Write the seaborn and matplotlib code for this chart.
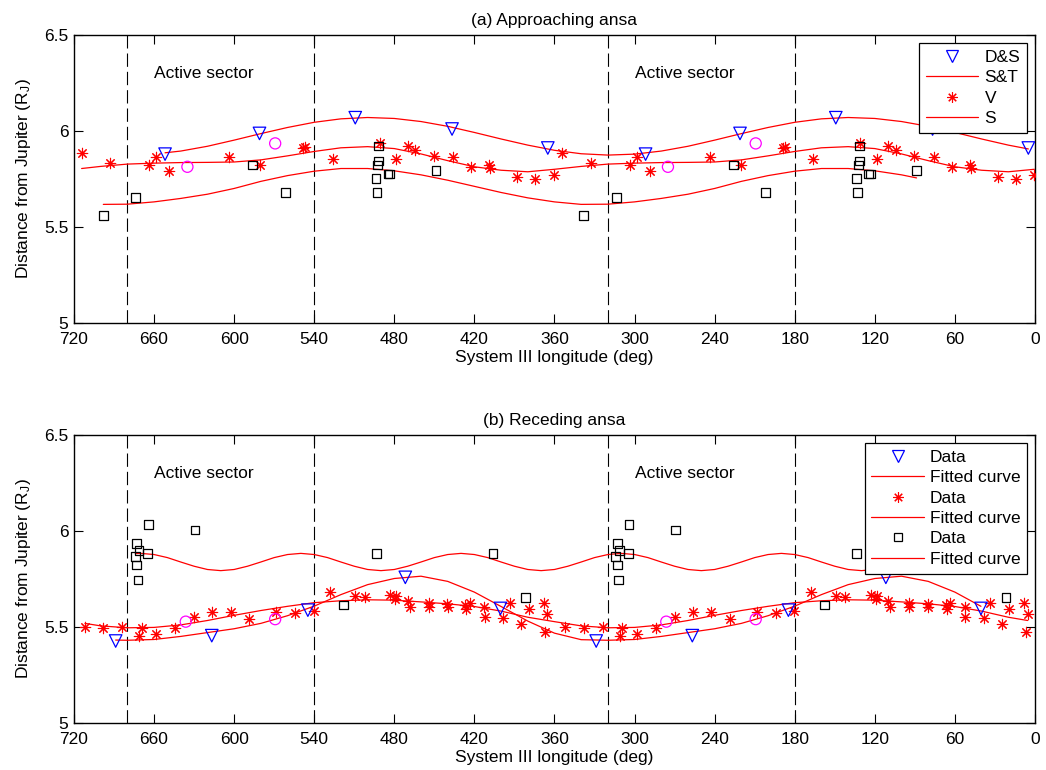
import numpy as np
import pandas as pd
import matplotlib
matplotlib.use("Agg")
import matplotlib.pyplot as plt
from matplotlib.lines import Line2D
import seaborn as sns

# -----------------------------
# data (one 360 deg cycle, drawn again at lon - 360)
# lon = System III longitude (deg), r = distance (R_J)
# -----------------------------

# (a) approaching ansa
a_ds_lon = [651.75, 581.0, 509.25, 436.75, 365.0]
a_ds_r = [5.879, 5.987, 6.069, 6.010, 5.911]

a_circ_lon = [635.0, 569.25]
a_circ_r = [5.813, 5.935]

a_sq_lon = [698.0, 673.75, 586.0, 561.75, 491.75, 491.75, 492.5, 493.75, 493.0, 484.75, 483.5, 448.75]
a_sq_r = [5.561, 5.652, 5.822, 5.680, 5.921, 5.843, 5.822, 5.753, 5.680, 5.775, 5.775, 5.793]

a_v_lon = [714.25, 693.0, 663.5, 658.5, 648.5, 603.75, 580.5, 548.75, 547.25, 526.0, 491.0,
           478.5, 470.0, 464.25, 450.5, 436.0, 422.25, 408.75, 408.0, 388.0, 374.25, 360.5]
a_v_r = [5.883, 5.831, 5.822, 5.862, 5.791, 5.862, 5.822, 5.912, 5.914, 5.852, 5.935,
         5.852, 5.921, 5.900, 5.869, 5.862, 5.813, 5.822, 5.805, 5.761, 5.749, 5.770]

# (b) receding ansa
b_ds_lon = [688.75, 616.75, 544.75, 471.75, 400.5]
b_ds_r = [5.426, 5.454, 5.587, 5.758, 5.596]

b_circ_lon = [636.25, 569.25]
b_circ_r = [5.527, 5.540]

b_sq_lon = [673.0, 671.25, 674.0, 673.0, 672.0, 664.75, 664.25, 629.25, 518.0, 493.5, 406.0, 381.75]
b_sq_r = [5.935, 5.897, 5.866, 5.822, 5.744, 5.883, 6.034, 6.005, 5.614, 5.883, 5.883, 5.653]

b_v_lon = [711.75, 698.0, 683.75, 669.25, 671.25, 658.5, 644.25, 630.0, 616.25, 602.5, 588.5,
           568.5, 554.25, 540.5, 528.0, 509.25, 502.25, 483.0, 478.5, 479.25, 470.0, 468.5,
           454.25, 454.25, 440.5, 440.0, 426.75, 426.0, 423.5, 412.5, 412.25, 398.5, 393.5,
           384.75, 379.25, 368.0, 365.5, 366.75]
b_v_r = [5.501, 5.492, 5.501, 5.492, 5.452, 5.462, 5.492, 5.553, 5.575, 5.575, 5.540,
         5.579, 5.574, 5.582, 5.680, 5.662, 5.653, 5.666, 5.662, 5.645, 5.634, 5.601,
         5.622, 5.601, 5.617, 5.601, 5.614, 5.593, 5.622, 5.605, 5.553, 5.544, 5.626,
         5.514, 5.593, 5.626, 5.565, 5.474]

# fitted curves, read every 20 deg (10 deg for the 3-hump one) from 360 up
grid20 = list(range(360, 720, 20))
grid10 = list(range(360, 720, 10))

a_ds_fit = [5.899, 5.926, 5.958, 5.992, 6.024, 6.049, 6.065, 6.070, 6.063,
            6.045, 6.018, 5.986, 5.952, 5.920, 5.895, 5.879, 5.874, 5.881]
a_v_fit = [5.800, 5.787, 5.795, 5.813, 5.845, 5.880, 5.908, 5.918, 5.912,
           5.893, 5.870, 5.849, 5.838, 5.836, 5.835, 5.832, 5.827, 5.815]
a_s_fit = [5.630, 5.651, 5.679, 5.711, 5.743, 5.771, 5.792, 5.804, 5.804,
           5.790, 5.767, 5.737, 5.700, 5.670, 5.648, 5.630, 5.618, 5.617]

b_ds_fit = [5.467, 5.530, 5.606, 5.681, 5.737, 5.764, 5.752, 5.720, 5.668,
            5.608, 5.558, 5.518, 5.490, 5.470, 5.450, 5.434, 5.430, 5.433]
b_v_fit = [5.527, 5.550, 5.582, 5.606, 5.620, 5.630, 5.639, 5.641, 5.636,
           5.626, 5.607, 5.585, 5.560, 5.533, 5.510, 5.497, 5.495, 5.505]
b_s_fit = [5.799, 5.793, 5.799, 5.816, 5.838, 5.861, 5.877, 5.883, 5.877, 5.861, 5.838, 5.816,
           5.799, 5.793, 5.799, 5.816, 5.838, 5.861, 5.877, 5.883, 5.877, 5.861, 5.838, 5.816,
           5.799, 5.793, 5.799, 5.816, 5.838, 5.861, 5.877, 5.883, 5.877, 5.861, 5.838, 5.816]

# where each fitted curve starts and stops: (lon, r)
a_ds_ends = [(651.75, 5.886), (5.0, 5.906)]
a_v_ends = [(714.25, 5.804), (0.5, 5.800)]
a_s_ends = [(698.0, 5.617), (88.75, 5.755)]
b_ds_ends = [(688.75, 5.431), (40.5, 5.607)]
b_v_ends = [(711.75, 5.518), (5.5, 5.533)]
b_s_ends = [(674.0, 5.882), (21.75, 5.801)]

boundaries = [680, 540, 320, 180]
sector_x = [660, 300]


def both_cycles(lon, r):
    lon = np.asarray(lon, float)
    r = np.asarray(r, float)
    return pd.DataFrame({"lon": np.r_[lon, lon - 360], "r": np.r_[r, r]})


def fit_frame(grid, vals, ends):
    grid = np.asarray(grid, float)
    vals = np.asarray(vals, float)
    lon = np.r_[grid, grid - 360, 720.0]
    r = np.r_[vals, vals, vals[0]]
    (l0, r0), (l1, r1) = ends
    keep = (lon < l0) & (lon > l1)
    df = pd.DataFrame({"lon": np.r_[l0, lon[keep], l1], "r": np.r_[r0, r[keep], r1]})
    return df.sort_values("lon")


# -----------------------------
# style
# -----------------------------
sns.set_style("ticks")
plt.rcParams["font.family"] = ["Liberation Sans", "DejaVu Sans"]
plt.rcParams["mathtext.fontset"] = "custom"
plt.rcParams["mathtext.rm"] = "Liberation Sans"
plt.rcParams["mathtext.it"] = "Liberation Sans:italic"
plt.rcParams["text.color"] = "black"
plt.rcParams["axes.labelcolor"] = "black"
plt.rcParams["xtick.color"] = "black"
plt.rcParams["ytick.color"] = "black"

FS = 12.5
LW = 0.9

fig = plt.figure(figsize=(10.46, 7.70), dpi=100)
ax_a = fig.add_axes([0.0707, 0.5809, 0.9188, 0.3736])
ax_b = fig.add_axes([0.0707, 0.0614, 0.9188, 0.3736])

panels = [
    (ax_a, "(a) Approaching ansa",
     (a_ds_lon, a_ds_r), (a_circ_lon, a_circ_r), (a_sq_lon, a_sq_r), (a_v_lon, a_v_r),
     [(a_ds_fit, a_ds_ends, grid20), (a_v_fit, a_v_ends, grid20), (a_s_fit, a_s_ends, grid20)]),
    (ax_b, "(b) Receding ansa",
     (b_ds_lon, b_ds_r), (b_circ_lon, b_circ_r), (b_sq_lon, b_sq_r), (b_v_lon, b_v_r),
     [(b_ds_fit, b_ds_ends, grid20), (b_v_fit, b_v_ends, grid20), (b_s_fit, b_s_ends, grid10)]),
]

star = (8, 2, 0)

for ax, title, ds, circ, sq, v, fits in panels:
    for x in boundaries:
        ax.axvline(x, color="black", lw=0.8, ls=(0, (12, 4.5)), zorder=1)

    for vals, ends, grid in fits:
        sns.lineplot(data=fit_frame(grid, vals, ends), x="lon", y="r", color="red",
                     lw=LW, estimator=None, ax=ax, zorder=2)

    sns.scatterplot(data=both_cycles(*v), x="lon", y="r", marker=star, s=56,
                    color="red", linewidth=0.8, ax=ax, zorder=3)
    sns.scatterplot(data=both_cycles(*ds), x="lon", y="r", marker="v", s=81,
                    facecolor="none", edgecolor="blue", linewidth=LW, ax=ax, zorder=3)
    sns.scatterplot(data=both_cycles(*sq), x="lon", y="r", marker="s", s=40,
                    facecolor="none", edgecolor="black", linewidth=LW, ax=ax, zorder=3)
    sns.scatterplot(data=both_cycles(*circ), x="lon", y="r", marker="o", s=64,
                    facecolor="none", edgecolor="magenta", linewidth=LW, ax=ax, zorder=3)

    for x in sector_x:
        ax.text(x, 6.3, "Active sector", fontsize=FS, ha="left", va="center")

    ax.set_xlim(720, 0)
    ax.set_ylim(5, 6.5)
    ax.set_xticks(np.arange(720, -1, -60))
    ax.set_yticks([5, 5.5, 6, 6.5])
    ax.set_yticklabels(["5", "5.5", "6", "6.5"])
    ax.tick_params(axis="both", which="both", direction="in", length=6.5, width=0.8,
                   top=True, right=True, labelsize=FS)
    ax.tick_params(axis="x", pad=7)
    ax.tick_params(axis="y", pad=4)
    for sp in ax.spines.values():
        sp.set_visible(True)
        sp.set_color("black")
        sp.set_linewidth(1.0)
    ax.set_xlabel("System III longitude (deg)", fontsize=FS, labelpad=2)
    ax.set_ylabel(r"Distance from Jupiter (R$_{\mathrm{J}}$)", fontsize=FS, labelpad=8)
    ax.set_title(title, fontsize=FS, pad=7.5)

# legends
h_tri = Line2D([], [], ls="none", marker="v", ms=9, mfc="none", mec="blue", mew=LW)
h_star = Line2D([], [], ls="none", marker=star, ms=7.5, color="red", mew=0.8)
h_sq = Line2D([], [], ls="none", marker="s", ms=6.3, mfc="none", mec="black", mew=LW)
h_line = Line2D([], [], color="red", lw=LW)

leg_kw = dict(loc="upper right", fontsize=FS, frameon=True, fancybox=False, framealpha=1,
              edgecolor="black", handlelength=3.0, handletextpad=0.35, labelspacing=0.3,
              borderpad=0.4, borderaxespad=0.45)

leg = ax_a.legend([h_tri, h_line, h_star, h_line], ["D&S", "S&T", "V", "S"], **leg_kw)
leg.get_frame().set_linewidth(0.9)
leg = ax_b.legend([h_tri, h_line, h_star, h_line, h_sq, h_line],
                  ["Data", "Fitted curve", "Data", "Fitted curve", "Data", "Fitted curve"],
                  **leg_kw)
leg.get_frame().set_linewidth(0.9)

plt.savefig("out.png", dpi=100)
